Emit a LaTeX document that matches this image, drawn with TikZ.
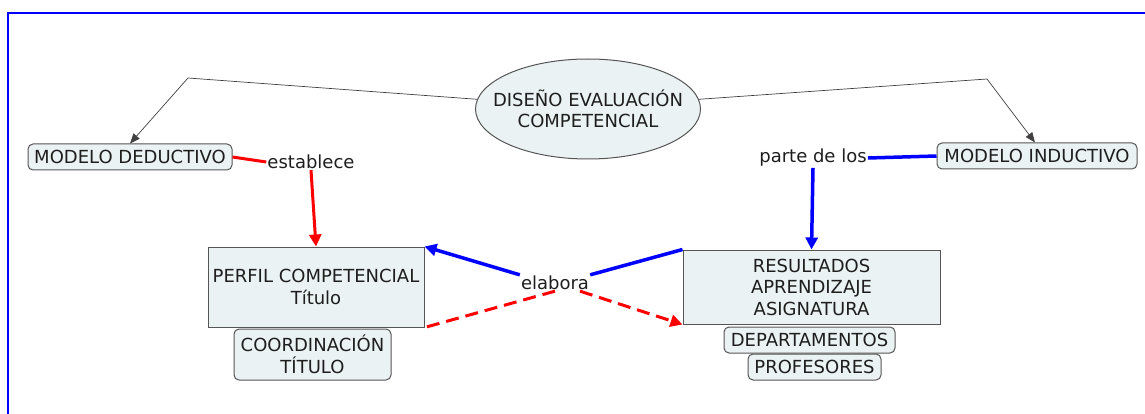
\documentclass[tikz,border=0pt]{standalone}
\usepackage{fontspec}
\setmainfont{DejaVu Sans}
\usetikzlibrary{shapes.geometric,arrows.meta,calc}
\definecolor{boxfill}{HTML}{EBF2F4}
\definecolor{boxline}{HTML}{555555}
\definecolor{linkred}{HTML}{FF0000}
\definecolor{linkblue}{HTML}{0000FF}
\definecolor{frameblue}{HTML}{0000FF}
\definecolor{inktext}{HTML}{1E1E1E}

\begin{document}
\begin{tikzpicture}[x=1pt,y=-1pt,
  every node/.style={font=\fontsize{18}{21.5}\selectfont, text=inktext, align=center},
  concept/.style={draw=boxline, fill=boxfill, line width=1pt, inner sep=0pt},
  pill/.style={concept, rounded corners=5pt},
  phrase/.style={inner sep=1pt},
  thinlink/.style={draw=black!75, line width=0.7pt, -{Triangle[length=10pt,width=8pt]}},
  redlink/.style={draw=linkred, line width=3pt},
  bluelink/.style={draw=linkblue, line width=3.5pt},
  bigtip/.style={-{Triangle[length=12pt,width=12pt]}},
  dashlink/.style={dash pattern=on 13pt off 7pt}
]
\useasboundingbox (0,0) rectangle (1145,414);

% frame
\draw[frameblue, line width=2pt] (8,414) -- (8,13) -- (1145,13);

% concepts
\node[concept, ellipse, inner xsep=-20pt, minimum width=225pt, minimum height=100pt] (ev) at (588,109)
  {DISEÑO EVALUACIÓN\\COMPETENCIAL};
\node[pill, minimum width=204pt, minimum height=26pt] (md) at (130,157) {MODELO DEDUCTIVO};
\node[pill, minimum width=200pt, minimum height=26pt] (mi) at (1037,156) {MODELO INDUCTIVO};
\node[concept, minimum width=216pt, minimum height=80pt] (pc) at (316,287)
  {PERFIL COMPETENCIAL\\Título};
\node[pill, minimum width=157pt, minimum height=51pt] (ct) at (312.5,354.5)
  {COORDINACIÓN\\TÍTULO};
\node[concept, minimum width=257pt, minimum height=74pt] (ra) at (811.5,287)
  {RESULTADOS\\APRENDIZAJE\\ASIGNATURA};
\node[pill, minimum width=171pt, minimum height=26pt] (dp) at (809.5,340) {DEPARTAMENTOS};
\node[pill, minimum width=133pt, minimum height=26pt] (pf) at (814.5,367) {PROFESORES};

% linking phrases
\node[phrase] (est) at (311,162) {establece};
\node[phrase] (pl) at (813,158) {parte de los};
\node[phrase] (el) at (555,283) {elabora};

% bends of the top connectors
\coordinate (bendL) at (188,78);
\coordinate (bendR) at (987,79);

% connectors
\draw[thinlink] (ev.175) -- (bendL) -- (md.north);
\draw[thinlink] (ev.5) -- (bendR) -- ($(mi.north)+(-2,0)$);

\draw[redlink] (md.east) -- (est.west);
\draw[redlink, bigtip] (est.south) -- (pc.north);

\draw[bluelink] (mi.west) -- (pl.east);
\draw[bluelink, bigtip] (pl.south) -- (ra.north);

\draw[bluelink, bigtip] (el.north west) -- (pc.north east);
\draw[bluelink] (el.north east) -- (ra.north west);
\draw[redlink, dashlink] (el.south) -- (pc.south east);
\draw[redlink, dashlink, bigtip] ($(el.south)+(25,0)$) -- (ra.south west);
\end{tikzpicture}
\end{document}
